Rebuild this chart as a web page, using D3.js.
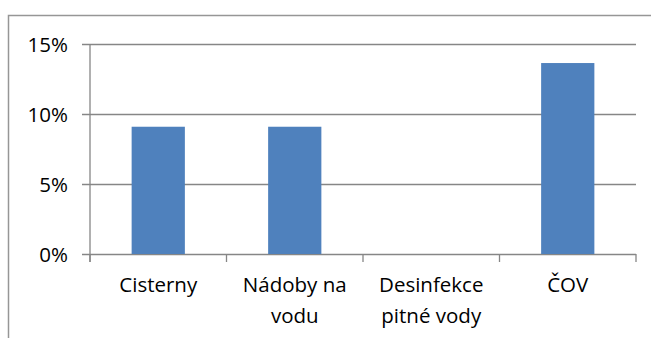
<!DOCTYPE html>
<html>
<head>
<meta charset="utf-8">
<script src="https://cdn.jsdelivr.net/npm/d3@7"></script>
<style>
  html, body { margin: 0; padding: 0; background: #fff; }
  svg { display: block; }
  text { font-family: "Open Sans", "Liberation Sans", sans-serif; fill: #000; }
</style>
</head>
<body>
<svg id="chart" width="651" height="338"></svg>
<script>
// Share of responses per category
const categories = [["Cisterny"], ["Nádoby na", "vodu"], ["Desinfekce", "pitné vody"], ["ČOV"]];
const values = [0.0909, 0.0909, 0, 0.1364];
const yTicks = [0, 0.05, 0.10, 0.15];
const yTickLabels = ["0%", "5%", "10%", "15%"];

const svg = d3.select("#chart");
const W = 651, H = 338;

const plot = { left: 90, right: 636, top: 44, bottom: 254 };

// chart area frame (runs past the right and bottom edges)
svg.append("rect")
  .attr("x", 8.5).attr("y", 15.5)
  .attr("width", W + 20).attr("height", H + 20)
  .attr("fill", "none")
  .attr("stroke", "#969696")
  .attr("stroke-width", 1.5);

const x = d3.scaleBand()
  .domain(d3.range(categories.length))
  .range([plot.left, plot.right])
  .paddingInner(0.61)
  .paddingOuter(0.305);

const y = d3.scaleLinear()
  .domain([0, 0.15])
  .range([plot.bottom, plot.top]);

// horizontal gridlines with left tick marks
const yAxis = d3.axisLeft(y)
  .tickValues(yTicks)
  .tickSize(-(plot.right - plot.left))
  .tickSizeOuter(0)
  .tickPadding(22)
  .tickFormat((d, i) => yTickLabels[i]);

const gy = svg.append("g")
  .attr("transform", `translate(${plot.left},0)`)
  .call(yAxis);
gy.select(".domain").remove();
gy.selectAll(".tick line")
  .attr("x1", -8)
  .attr("stroke", "#868686")
  .attr("stroke-width", 1.3);
gy.selectAll(".tick text")
  .style("font-size", "20.5px")
  .attr("dy", "0.35em");

// vertical axis line
svg.append("line")
  .attr("x1", plot.left).attr("x2", plot.left)
  .attr("y1", y(0.15)).attr("y2", y(0) + 8)
  .attr("stroke", "#868686")
  .attr("stroke-width", 1.3);

// category tick marks at band boundaries
const step = x.step();
const boundaries = d3.range(categories.length + 1).map(i => plot.left + i * step);
svg.append("g").selectAll("line")
  .data(boundaries)
  .join("line")
  .attr("x1", d => d).attr("x2", d => d)
  .attr("y1", y(0)).attr("y2", y(0) + 8)
  .attr("stroke", "#868686")
  .attr("stroke-width", 1.3);

// bars
svg.append("g").selectAll("rect")
  .data(values)
  .join("rect")
  .attr("x", (d, i) => x(i))
  .attr("width", x.bandwidth())
  .attr("y", d => y(d))
  .attr("height", d => y(0) - y(d))
  .attr("fill", "#4f81bd");

// category labels
const labels = svg.append("g").selectAll("text")
  .data(categories)
  .join("text")
  .attr("text-anchor", "middle")
  .attr("x", (d, i) => x(i) + x.bandwidth() / 2)
  .attr("y", 292)
  .style("font-size", "20.5px");
labels.selectAll("tspan")
  .data(d => d)
  .join("tspan")
  .attr("x", function () { return this.parentNode.getAttribute("x"); })
  .attr("dy", (d, i) => i === 0 ? 0 : 31)
  .text(d => d);
</script>
</body>
</html>
